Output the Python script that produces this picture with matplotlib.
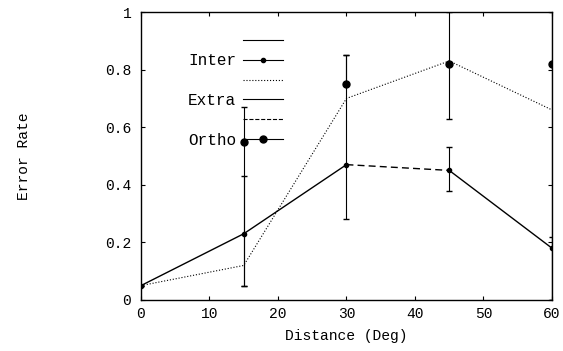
import matplotlib
matplotlib.use("Agg")
import matplotlib.pyplot as plt
from matplotlib.lines import Line2D
import numpy as np

# distance in degrees
distancia = [0, 15, 30, 45, 60]

inter = [0.05, 0.23, 0.47, 0.45, 0.18]
inter_bajo = [0.0, 0.18, 0.19, 0.07, 0.18]
inter_alto = [0.0, 0.20, 0.38, 0.08, 0.04]

extra = [0.05, 0.12, 0.70, 0.83, 0.66]

ortho = [np.nan, 0.55, 0.75, 0.82, 0.82]
ortho_bajo = [0.0, 0.50, 0.0, 0.19, 0.82]
ortho_alto = [0.0, 0.12, 0.10, 0.18, 0.18]

plt.rcParams['font.family'] = ['Liberation Mono', 'DejaVu Sans Mono']

fig = plt.figure(figsize=(5.63, 3.51), dpi=100)
ax = fig.add_axes([0.2504, 0.1453, 0.7300, 0.8205])

# linea Inter: solida, con el tramo 30-45 a trazos
ax.plot(distancia[:3], inter[:3], color='black', lw=1.0)
ax.plot(distancia[2:4], inter[2:4], color='black', lw=1.0, linestyle=(0, (5, 3)))
ax.plot(distancia[3:], inter[3:], color='black', lw=1.0)
ax.errorbar(distancia, inter, yerr=[inter_bajo, inter_alto], color='black',
            linestyle='none', marker='o', ms=3, elinewidth=0.8, capsize=2)
ax.plot(distancia, extra, color='black', lw=0.8, linestyle=':')
ax.errorbar(distancia, ortho, yerr=[ortho_bajo, ortho_alto], color='black',
            linestyle='none', marker='o', ms=5, elinewidth=0.8, capsize=2)

ax.set_xlim(0, 60)
ax.set_ylim(0, 1)
ax.set_xticks([0, 10, 20, 30, 40, 50, 60])
ax.set_yticks([0, 0.2, 0.4, 0.6, 0.8, 1])
ax.set_yticklabels(['0', '0.2', '0.4', '0.6', '0.8', '1'])
ax.tick_params(direction='in', top=True, right=True, labelsize=10.5, length=3)
ax.tick_params(axis='y', pad=7)
ax.tick_params(axis='x', pad=5)
for s in ax.spines.values():
    s.set_linewidth(1.0)

ax.set_xlabel("Distance (Deg)", fontsize=10.5, labelpad=6)
ax.set_ylabel("Error Rate", fontsize=10.5, labelpad=53)

manejadores = [
    Line2D([], [], color='black', lw=0.8),
    Line2D([], [], color='black', lw=0.8, marker='o', ms=3),
    Line2D([], [], color='black', lw=0.8, linestyle=':'),
    Line2D([], [], color='black', lw=0.8),
    Line2D([], [], color='black', lw=0.8, linestyle='--'),
    Line2D([], [], color='black', lw=0.8, marker='o', ms=5),
]
etiquetas = ['', 'Inter', '', 'Extra', '', 'Ortho']
ax.legend(manejadores, etiquetas, loc='upper left', bbox_to_anchor=(0.08, 0.975),
          frameon=False, fontsize=11.5, markerfirst=False, handlelength=2.5,
          labelspacing=0.3, handletextpad=0.4)

fig.savefig("out.png", dpi=100)
